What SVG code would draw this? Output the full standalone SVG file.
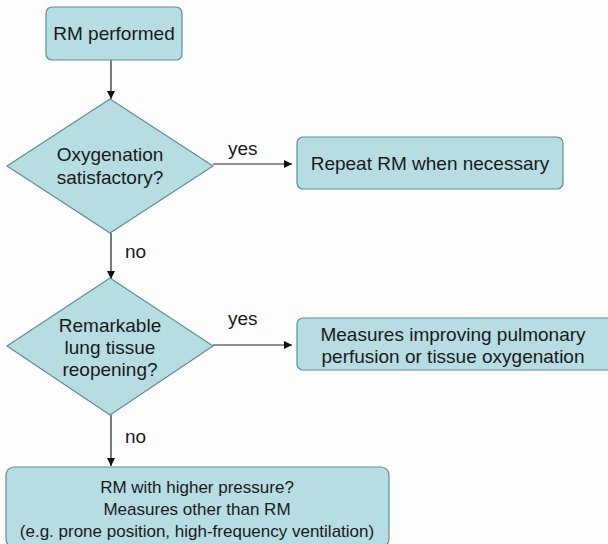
<svg xmlns="http://www.w3.org/2000/svg" width="608" height="544" viewBox="0 0 608 544">
<style>
.n{fill:#b6dde2;stroke:#5f8f96;stroke-width:1.2}
.t{font-family:"Liberation Sans",Arial,sans-serif;font-size:19px;fill:#1a1a1a;text-anchor:middle}
.s{font-size:17px}
.l{font-family:"Liberation Sans",Arial,sans-serif;font-size:19px;fill:#1a1a1a}
.c{stroke:#222;stroke-width:1.2;fill:none;marker-end:url(#a)}
</style>
<defs>
<marker id="a" viewBox="0 0 10 10" refX="10" refY="5" markerWidth="8" markerHeight="8" markerUnits="userSpaceOnUse" orient="auto">
<path d="M0,0 L10,5 L0,10 z" fill="#111"/>
</marker>
</defs>
<rect width="608" height="544" fill="#fdfdfe"/>
<g id="connectors">
<line class="c" x1="111" y1="60" x2="111" y2="99"/>
<line class="c" x1="213" y1="164" x2="292" y2="164"/>
<line class="c" x1="111" y1="233" x2="111" y2="279"/>
<line class="c" x1="213" y1="345" x2="292" y2="345"/>
<line class="c" x1="111" y1="415" x2="111" y2="466"/>
<text class="l" x="228" y="155">yes</text>
<text class="l" x="125" y="258">no</text>
<text class="l" x="228" y="325">yes</text>
<text class="l" x="125" y="443">no</text>
</g>
<g id="n1">
<rect class="n" x="46" y="7" width="136" height="53" rx="6"/>
<text class="t" x="114" y="40">RM performed</text>
</g>
<g id="n2">
<polygon class="n" points="110,99 213,166 110,233 7,166"/>
<text class="t" x="110" y="161">Oxygenation</text>
<text class="t" x="110" y="184">satisfactory?</text>
</g>
<g id="n3">
<rect class="n" x="297" y="137" width="266" height="52" rx="6"/>
<text class="t" x="430" y="170">Repeat RM when necessary</text>
</g>
<g id="n4">
<polygon class="n" points="110,278 213,346 110,415 7,346"/>
<text class="t" x="110" y="332">Remarkable</text>
<text class="t" x="110" y="354">lung tissue</text>
<text class="t" x="110" y="376">reopening?</text>
</g>
<g id="n5">
<rect class="n" x="297" y="318" width="320" height="52" rx="6"/>
<text class="t" x="453" y="341">Measures improving pulmonary</text>
<text class="t" x="453" y="363">perfusion or tissue oxygenation</text>
</g>
<g id="n6">
<rect class="n" x="6" y="467" width="383" height="80" rx="8"/>
<text class="t s" x="197" y="493">RM with higher pressure?</text>
<text class="t s" x="197" y="515">Measures other than RM</text>
<text class="t s" x="197" y="537">(e.g. prone position, high-frequency ventilation)</text>
</g>
</svg>
